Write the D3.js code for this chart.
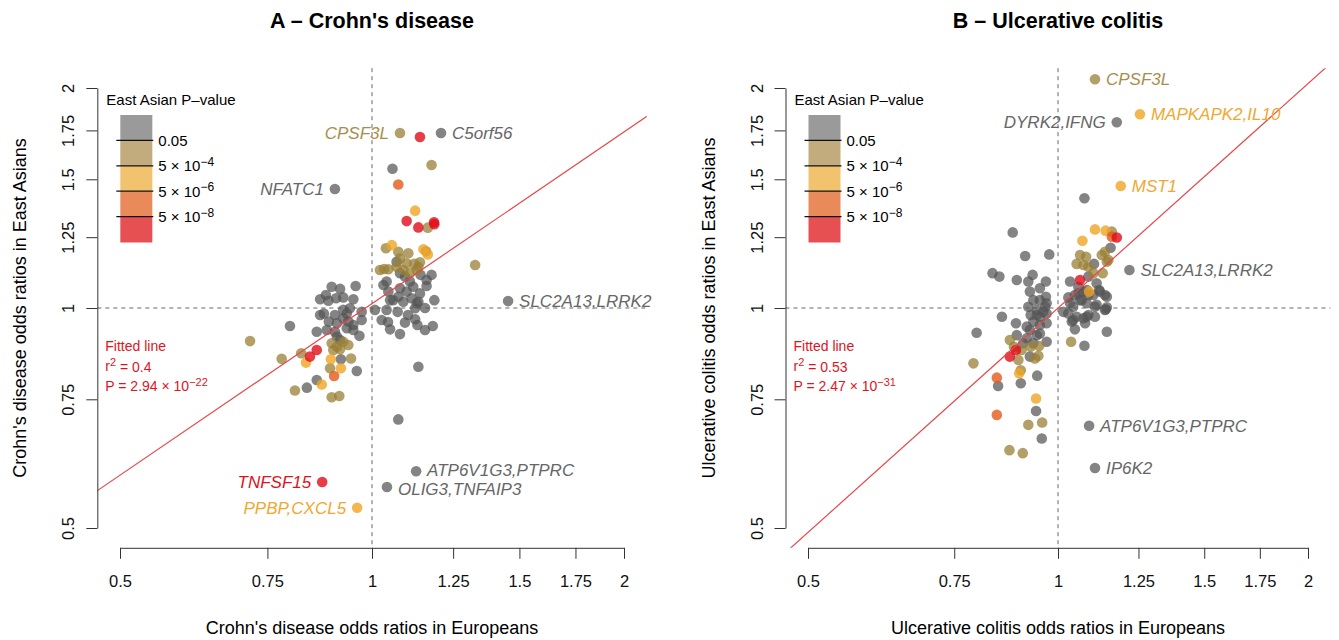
<!DOCTYPE html>
<html><head><meta charset="utf-8">
<script src="https://cdn.jsdelivr.net/npm/d3@7"></script>
<style>body{margin:0;background:#fff}svg{font-family:"Liberation Sans",Arial,Helvetica,sans-serif}</style>
</head><body><svg id="c" width="1339" height="640"></svg>
<script>
// ---------- data ----------
const xTicks = [0.5, 0.75, 1, 1.25, 1.5, 1.75, 2];
const yTicks = [0.5, 0.75, 1, 1.25, 1.5, 1.75, 2];
const legendTitle = "East Asian P\u2013value";
const legendBreaks = [["0.05", null], ["5", "\u22124"], ["5", "\u22126"], ["5", "\u22128"]];
// category index: 0 P>0.05, 1 0.05..5e-4, 2 5e-4..5e-6, 3 5e-6..5e-8, 4 <5e-8

// Crohn's disease: [European OR, East Asian OR, P category]
const cdPoints = [
[1.080,1.736,1],[1.141,1.714,4],[1.209,1.736,0],[1.058,1.551,0],[1.178,1.569,1],[1.075,1.476,3],[0.903,1.455,0],
[1.126,1.359,2],[1.100,1.315,4],[1.136,1.289,4],[1.186,1.310,4],[1.187,1.302,4],[1.166,1.288,1],
[1.328,1.145,1],[1.454,1.022,0],[1.136,0.831,0],[1.075,0.704,0],[1.129,0.598,0],[1.042,0.569,0],
[1.056,1.219,2],[1.039,1.207,1],[1.075,1.194,1],[1.105,1.188,1],[1.152,1.203,2],[1.166,1.184,2],[1.160,1.196,1],
[1.080,1.169,1],[1.100,1.151,1],[1.123,1.149,1],[1.136,1.139,1],[1.022,1.127,1],[1.046,1.130,1],[1.070,1.139,1],
[1.090,1.127,1],[1.110,1.116,1],[1.131,1.127,1],[1.034,1.131,1],[1.141,1.155,1],
[1.070,1.157,0],[1.080,1.116,0],[1.095,1.104,0],[1.110,1.087,0],[1.178,1.110,0],[1.162,1.092,0],[1.041,1.087,0],
[1.032,1.075,0],[1.046,1.053,0],[1.080,1.064,0],[1.100,1.053,0],[1.120,1.069,0],[1.141,1.047,0],[1.060,1.025,0],
[1.090,1.020,0],[1.115,1.031,0],[1.136,1.020,0],[1.187,1.025,0],[1.143,1.110,0],[1.162,1.072,0],[1.075,1.036,0],
[1.051,1.025,0],[1.131,1.015,0],[1.126,0.999,0],[1.008,0.994,0],[1.027,0.963,0],[1.041,0.994,0],[1.051,0.935,0],
[1.080,0.921,0],[1.095,0.955,0],[1.126,0.965,0],[1.133,0.948,0],[1.157,0.933,0],[1.182,0.945,0],[1.073,0.988,0],
[1.104,0.978,0],[1.045,0.957,0],[1.157,1.000,0],
[0.715,0.901,1],[0.798,0.945,0],[0.895,1.069,0],[0.916,1.062,0],[0.956,1.072,0],[0.867,1.028,0],[0.881,1.042,0],
[0.887,1.023,0],[0.906,1.031,0],[0.924,1.034,0],[0.950,1.028,0],[0.867,0.978,0],[0.876,0.983,0],[0.903,0.978,0],
[0.924,0.994,0],[0.933,0.983,0],[0.941,0.999,0],[0.972,0.988,0],[0.888,0.958,0],[0.908,0.953,0],[0.924,0.968,0],
[0.937,0.958,0],[0.950,0.948,0],[0.972,0.963,0],[0.859,0.928,0],[0.883,0.933,0],[0.903,0.928,0],[0.933,0.938,0],
[0.950,0.933,0],[0.966,0.916,0],[0.908,0.914,0],[0.916,0.904,0],
[0.895,0.895,1],[0.908,0.885,1],[0.924,0.899,1],[0.937,0.890,1],[0.899,0.876,1],[0.916,0.878,1],[0.823,0.867,1],
[0.780,0.852,1],[0.843,0.858,4],[0.859,0.876,4],[0.834,0.842,2],[0.893,0.851,2],[0.918,0.851,0],[0.944,0.853,1],
[0.891,0.827,1],[0.918,0.827,2],[0.959,0.820,0],[0.901,0.807,3],[0.859,0.797,0],[0.871,0.786,2],[0.836,0.778,0],
[0.809,0.771,1],[0.895,0.755,1],[0.914,0.758,1],[0.872,0.578,4],[0.960,0.533,2]
];
const cdLabels = [
  {gene:"CPSF3L", x:1.080, y:1.736, cat:1, side:"left"},
  {gene:"C5orf56", x:1.209, y:1.736, cat:0, side:"right"},
  {gene:"NFATC1", x:0.903, y:1.455, cat:0, side:"left"},
  {gene:"SLC2A13,LRRK2", x:1.454, y:1.022, cat:0, side:"right"},
  {gene:"ATP6V1G3,PTPRC", x:1.129, y:0.598, cat:0, side:"right", nudge:-1.5},
  {gene:"OLIG3,TNFAIP3", x:1.042, y:0.569, cat:0, side:"right", nudge:1.5},
  {gene:"TNFSF15", x:0.872, y:0.578, cat:4, side:"left"},
  {gene:"PPBP,CXCL5", x:0.960, y:0.533, cat:2, side:"left"}
];
const cdFit = {slope:0.78, intercept:0.02, r2:"0.4", pMant:"2.94", pExp:"\u221222"};

// Ulcerative colitis
const ucPoints = [
[1.108,2.056,1],[1.177,1.795,0],[1.255,1.841,2],[1.190,1.469,2],[1.219,1.127,0],[1.090,0.690,0],[1.108,0.604,0],
[1.076,1.413,0],[0.882,1.269,0],[1.108,1.281,2],[1.141,1.276,2],[1.161,1.272,1],[1.161,1.252,3],[1.177,1.249,4],
[1.070,1.236,2],[0.913,1.178,0],[0.976,1.184,0],[1.157,1.209,0],
[1.139,1.194,1],[1.129,1.182,1],[1.150,1.163,1],[1.063,1.182,1],[1.081,1.175,1],[1.053,1.149,1],[1.073,1.145,1],
[1.088,1.139,1],[1.103,1.116,1],[1.132,1.116,1],[1.145,1.157,1],[1.105,1.149,0],
[0.834,1.116,0],[0.850,1.104,0],[0.892,1.092,0],[0.921,1.087,0],[0.932,1.110,0],[0.967,1.087,0],
[1.063,1.092,4],
[1.034,1.087,0],[1.058,1.069,0],[1.073,1.053,0],[1.088,1.042,0],[1.113,1.081,0],[1.121,1.058,0],[1.139,1.042,0],
[1.048,1.042,0],[1.088,1.104,0],[1.090,1.053,2],
[0.925,1.053,0],[0.951,1.064,0],[0.967,1.036,0],[0.934,1.025,0],[0.951,1.025,0],[0.969,1.015,0],
[1.029,1.034,0],[1.063,1.025,0],[1.083,1.015,0],[1.108,1.004,0],[1.139,0.994,0],[1.145,1.036,0],[1.043,1.004,0],
[0.921,1.004,0],[0.943,0.994,0],[0.965,1.004,0],[0.927,0.978,0],[0.951,0.973,0],[0.969,0.983,0],
[1.015,0.988,0],
[0.856,0.973,0],[0.890,0.953,0],[0.798,0.925,0],[0.917,0.943,0],[0.951,0.948,0],[0.969,0.953,0],
[1.039,0.958,0],[1.053,0.973,0],[1.078,0.953,0],[1.083,0.973,0],[1.145,0.928,0],
[1.058,1.047,0],[1.083,1.058,0],[1.103,1.042,0],[1.123,1.053,0],[1.113,1.010,0],[1.068,1.025,0],[1.145,1.002,0],
[1.029,0.983,0],[1.043,0.963,0],[1.073,0.968,0],[1.088,0.978,0],[1.108,0.973,0],[1.142,0.996,0],[1.048,0.935,0],[1.034,1.015,0],
[0.934,0.958,0],[0.925,0.933,0],[0.943,0.918,0],[0.917,0.909,0],[0.892,0.918,0],[0.951,0.923,0],[0.969,0.899,0],
[0.934,0.895,0],[0.908,0.895,0],[0.960,0.988,0],[0.943,0.978,0],
[0.875,0.904,1],[0.885,0.885,1],[0.904,0.876,1],[0.927,0.885,1],[0.949,0.887,1],
[0.875,0.858,4],[0.890,0.876,4],[0.896,0.849,1],[0.925,0.858,0],[0.938,0.853,1],[0.947,0.860,1],
[0.791,0.840,1],[0.902,0.822,1],[0.898,0.814,2],[0.944,0.808,0],[0.844,0.803,3],[0.847,0.782,0],[0.902,0.789,0],
[0.941,0.752,2],[0.941,0.723,0],[0.844,0.714,3],[0.921,0.692,1],[0.957,0.697,1],[0.956,0.663,0],
[0.874,0.639,1],[0.907,0.633,1],[1.037,0.899,1],[1.076,0.888,0]
];
const ucLabels = [
  {gene:"CPSF3L", x:1.108, y:2.056, cat:1, side:"right"},
  {gene:"DYRK2,IFNG", x:1.177, y:1.795, cat:0, side:"left"},
  {gene:"MAPKAPK2,IL10", x:1.255, y:1.841, cat:2, side:"right"},
  {gene:"MST1", x:1.190, y:1.469, cat:2, side:"right"},
  {gene:"SLC2A13,LRRK2", x:1.219, y:1.127, cat:0, side:"right"},
  {gene:"ATP6V1G3,PTPRC", x:1.090, y:0.690, cat:0, side:"right"},
  {gene:"IP6K2", x:1.108, y:0.604, cat:0, side:"right"}
];
const ucFit = {slope:1.02, intercept:0.0, r2:"0.53", pMant:"2.47", pExp:"\u221231"};

// ---------- styles ----------
const pointFill = ["#555555", "#9a7f35", "#f0a526", "#e35a1c", "#e00d18"];
const pointOpacity = [0.72, 0.75, 0.8, 0.8, 0.8];
const labelFill = ["#666666", "#a88e4c", "#f0a830", "#e3602a", "#dc1420"];
const legendFill = ["#9a9a9a", "#c2ab7c", "#f1c36e", "#e98a5a", "#e65052"];
const fitColor = "#e8474c";
const annotColor = "#e0141e";

const svg = d3.select("#c");
const yScale = d3.scaleLog().base(2).domain([0.5, 2]).range([528, 88]);

const panels = [
  {title:"A \u2013 Crohn's disease", xTitle:"Crohn's disease odds ratios in Europeans",
   yTitle:"Crohn's disease odds ratios in East Asians", points:cdPoints, labels:cdLabels, fit:cdFit, xr:[120,624]},
  {title:"B \u2013 Ulcerative colitis", xTitle:"Ulcerative colitis odds ratios in Europeans",
   yTitle:"Ulcerative colitis odds ratios in East Asians", points:ucPoints, labels:ucLabels, fit:ucFit, xr:[808,1308]}
];

const ext = 0.09; // plot region extension in log2 units
panels.forEach((P, pi) => {
  const x = d3.scaleLog().base(2).domain([0.5, 2]).range(P.xr);
  const y = yScale;
  const L = x(Math.pow(2, -1 - ext)), R = x(Math.pow(2, 1 + ext));
  const T = y(Math.pow(2, 1 + ext)), B = y(Math.pow(2, -1 - ext));
  const g = svg.append("g");
  const cid = "clip" + pi;
  svg.append("clipPath").attr("id", cid).append("rect").attr("x", L).attr("y", T).attr("width", R - L).attr("height", B - T);

  // title
  g.append("text").attr("x", x(1)).attr("y", 28).attr("text-anchor", "middle")
    .attr("font-weight", "bold").attr("font-size", 21.5).text(P.title);

  // reference dashed lines
  g.append("line").attr("x1", x(1)).attr("x2", x(1)).attr("y1", T).attr("y2", B)
    .attr("stroke", "#666").attr("stroke-dasharray", "4,4").attr("stroke-width", 1);
  g.append("line").attr("x1", L).attr("x2", R).attr("y1", y(1)).attr("y2", y(1))
    .attr("stroke", "#666").attr("stroke-dasharray", "4,4").attr("stroke-width", 1);

  // points
  const pts = P.points.slice().sort((a, b) => a[2] - b[2]);
  g.append("g").selectAll("circle").data(pts).join("circle")
    .attr("cx", d => x(d[0])).attr("cy", d => y(d[1])).attr("r", 5.3)
    .attr("fill", d => pointFill[d[2]]).attr("fill-opacity", d => pointOpacity[d[2]]);

  // fitted line (log2 y = intercept + slope * log2 x)
  const fx = [Math.pow(2, -1.3), Math.pow(2, 1.3)];
  g.append("line").attr("clip-path", `url(#${cid})`)
    .attr("x1", x(fx[0])).attr("y1", y(Math.pow(2, P.fit.intercept + P.fit.slope * Math.log2(fx[0]))))
    .attr("x2", x(fx[1])).attr("y2", y(Math.pow(2, P.fit.intercept + P.fit.slope * Math.log2(fx[1]))))
    .attr("stroke", fitColor).attr("stroke-width", 1.2);

  // gene labels
  g.append("g").selectAll("text").data(P.labels).join("text")
    .attr("x", d => x(d.x) + (d.side === "left" ? -11 : 11)).attr("y", d => y(d.y) + (d.nudge || 0)).attr("dy", "0.36em")
    .attr("text-anchor", d => d.side === "left" ? "end" : "start")
    .attr("font-style", "italic").attr("font-size", 17).attr("fill", d => labelFill[d.cat]).text(d => d.gene);

  // x axis
  const xa = g.append("g").attr("transform", `translate(0,${B})`)
    .call(d3.axisBottom(x).tickValues(xTicks).tickFormat(d => String(d)).tickSize(11).tickSizeOuter(0).tickPadding(16));
  xa.selectAll("text").attr("font-size", 16.5).attr("font-family", null).attr("fill", "#111");
  xa.selectAll("line,path").attr("stroke", "#333");
  // y axis
  const ya = g.append("g").attr("transform", `translate(${L},0)`)
    .call(d3.axisLeft(y).tickValues(yTicks).tickFormat(d => String(d)).tickSize(11).tickSizeOuter(0));
  ya.selectAll("text").attr("font-size", 16.5).attr("font-family", null).attr("fill", "#111")
    .attr("x", null).attr("dy", null).attr("text-anchor", "middle").attr("transform", "translate(-23,0) rotate(-90)");
  ya.selectAll("line,path").attr("stroke", "#333");

  // axis titles
  g.append("text").attr("x", x(1)).attr("y", 634).attr("text-anchor", "middle").attr("font-size", 18).text(P.xTitle);
  g.append("text").attr("transform", `translate(${L - 71},${y(1)}) rotate(-90)`).attr("text-anchor", "middle")
    .attr("font-size", 18).text(P.yTitle);

  // legend
  const lx = L + 9;
  g.append("text").attr("x", lx).attr("y", 105).attr("font-size", 15).text(legendTitle);
  const bx = lx + 14, bw = 32, by = 115, bh = 25.4;
  g.append("g").selectAll("rect").data(legendFill).join("rect")
    .attr("x", bx).attr("y", (d, i) => by + i * bh).attr("width", bw).attr("height", bh + 0.5).attr("fill", d => d);
  const lb = g.append("g").selectAll("g").data(legendBreaks).join("g")
    .attr("transform", (d, i) => `translate(0,${by + (i + 1) * bh})`);
  lb.append("line").attr("x1", bx - 4).attr("x2", bx + bw + 1).attr("stroke", "#111").attr("stroke-width", 1.2);
  const lt = lb.append("text").attr("x", bx + bw + 6).attr("dy", "0.36em").attr("font-size", 15);
  lt.each(function(d) {
    const t = d3.select(this);
    if (!d[1]) { t.text(d[0]); return; }
    t.append("tspan").text(d[0] + " \u00d7 10");
    t.append("tspan").attr("dy", "-0.45em").attr("font-size", 12).text(d[1]);
  });

  // fitted-line annotation
  const ax = lx - 1;
  const an = g.append("g").attr("fill", annotColor).attr("font-size", 14);
  an.append("text").attr("x", ax).attr("y", 351).text("Fitted line");
  const r2 = an.append("text").attr("x", ax).attr("y", 371);
  r2.append("tspan").text("r");
  r2.append("tspan").attr("dy", "-0.45em").attr("font-size", 11).text("2");
  r2.append("tspan").attr("dy", "0.45em").text(" = " + P.fit.r2);
  const pt = an.append("text").attr("x", ax).attr("y", 391);
  pt.append("tspan").text("P = " + P.fit.pMant + " \u00d7 10");
  pt.append("tspan").attr("dy", "-0.45em").attr("font-size", 11).text(P.fit.pExp);
});
</script></body></html>
